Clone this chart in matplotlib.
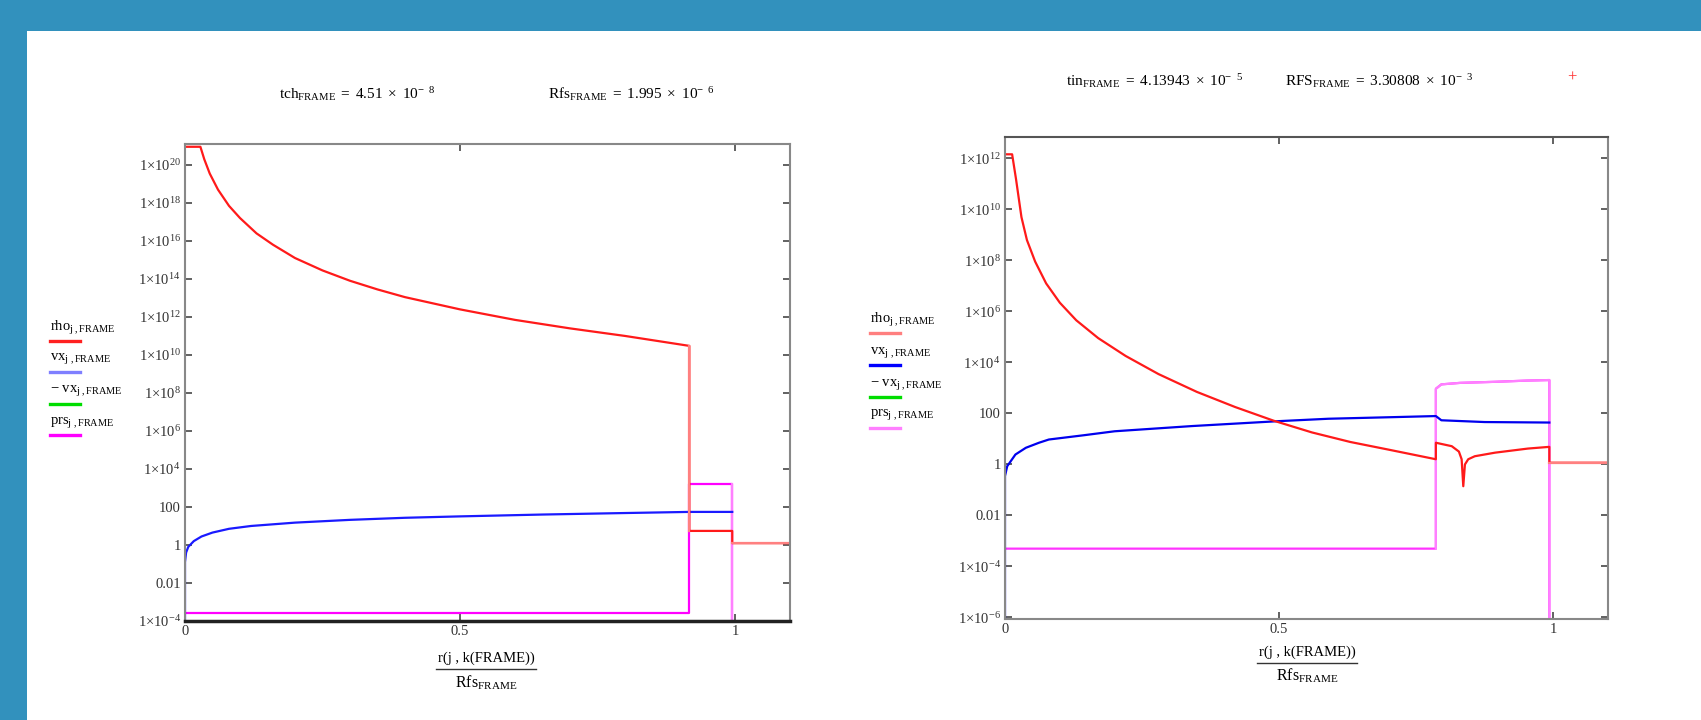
import numpy as np
import matplotlib
matplotlib.use("Agg")
import matplotlib.pyplot as plt
from matplotlib.lines import Line2D
from matplotlib.patches import Rectangle

plt.rcParams['font.family'] = ['Liberation Serif', 'DejaVu Serif']
plt.rcParams['mathtext.fontset'] = 'custom'
plt.rcParams['mathtext.rm'] = 'Liberation Serif'
plt.rcParams['mathtext.it'] = 'Liberation Serif:italic'

# ---- left frame : tch = 4.51e-8
rho_a_x = [0, 0.028, 0.035, 0.045, 0.06, 0.08, 0.1, 0.13, 0.16, 0.2, 0.25, 0.3, 0.35, 0.4,
           0.5, 0.6, 0.7, 0.8, 0.917, 0.917, 0.995, 0.995, 1.1]
rho_a = [9e20, 9e20, 2e20, 3.5e19, 5e18, 7e17, 1.6e17, 2.5e16, 6.3e15, 1.26e15, 2.8e14, 8e13,
         2.8e13, 1.1e13, 2.5e12, 7e11, 2.5e11, 1e11, 3e10, 5.5, 5.5, 1.25, 1.25]
vx_a_x = [0, 0, 0.002, 0.006, 0.016, 0.03, 0.05, 0.08, 0.12, 0.2, 0.3, 0.4, 0.5, 0.65, 0.8,
          0.917, 0.995]
vx_a = [1e-9, 0.126, 0.4, 0.8, 1.6, 2.8, 4.5, 7.1, 10, 15, 21, 27, 32, 40, 48, 55, 55]
prs_a_x = [0, 0.917, 0.917, 0.995, 0.995]
prs_a = [2.8e-4, 2.8e-4, 1.6e3, 1.6e3, 1e-9]

# ---- right frame : tin = 4.13943e-5
rho_b_x = [0, 0.013, 0.02, 0.03, 0.04, 0.055, 0.075, 0.1, 0.13, 0.17, 0.22, 0.28, 0.35, 0.42,
           0.49, 0.56, 0.63, 0.7, 0.786, 0.786, 0.815, 0.828, 0.833, 0.836, 0.839, 0.845, 0.857,
           0.894, 0.954, 0.993, 0.993, 1.1]
rho_b = [1.45e12, 1.45e12, 1.6e11, 5e9, 6.3e8, 9e7, 1.26e7, 2.2e6, 4.5e5, 9e4, 1.8e4, 3.5e3,
         700, 178, 52, 18, 7.6, 3.8, 1.6, 7.1, 5.2, 3.2, 1.6, 0.14, 1.0, 1.6, 2.1, 2.9, 4.2, 4.9,
         1.17, 1.17]
vx_b_x = [0, 0, 0.004, 0.019, 0.038, 0.062, 0.08, 0.144, 0.2, 0.341, 0.5, 0.59, 0.712, 0.786,
          0.796, 0.875, 0.993]
vx_b = [1e-9, 0.35, 0.85, 2.45, 4.5, 7.1, 9.5, 14, 20, 32, 50, 62, 72, 79, 54, 46, 44]
prs_b_x = [0, 0.786, 0.786, 0.796, 0.83, 0.894, 0.954, 0.993, 0.993]
prs_b = [5e-4, 5e-4, 930, 1380, 1580, 1740, 1950, 2040, 1e-9]

ticks_a = [1e-4, 1e-2, 1, 1e2, 1e4, 1e6, 1e8, 1e10, 1e12, 1e14, 1e16, 1e18, 1e20]
ticks_b = [1e-6, 1e-4, 1e-2, 1, 1e2, 1e4, 1e6, 1e8, 1e10, 1e12]


def tick_label(v):
    e = int(round(np.log10(v)))
    if e == -2:
        return "0.01"
    if 0 <= e <= 2:
        return str(int(v))
    return r"$1{\times}10^{%d}$" % e


W, H = 1701, 720
fig = plt.figure(figsize=(W / 100, H / 100), dpi=100)
fig.patch.set_facecolor('#3291bd')
fig.add_artist(Rectangle((27 / W, 0), 1 - 27 / W, 1 - 31 / H, transform=fig.transFigure,
                         facecolor='white', edgecolor='none', zorder=-10))


def px(x, y):
    return x / W, 1 - y / H


def setup(ax, ylim, ticks):
    ax.set_yscale('log')
    ax.set_xlim(0, 1.1)
    ax.set_ylim(*ylim)
    ax.set_yticks(ticks)
    ax.set_yticklabels([tick_label(t) for t in ticks])
    ax.yaxis.set_minor_locator(matplotlib.ticker.NullLocator())
    ax.set_xticks([0, 0.5, 1])
    ax.set_xticklabels(["0", "0.5", "1"])
    ax.tick_params(direction='in', length=5, width=1.3, color='#555555', labelsize=10.5,
                   labelcolor='#333333', right=True, top=True, pad=3)
    for s in ax.spines.values():
        s.set_color('#888888')
        s.set_linewidth(1.5)


lw = 1.6
light_red, light_mag = '#ff8080', '#ff80ff'

ax1 = fig.add_axes([185 / W, 1 - 621 / H, 605 / W, 477 / H])
setup(ax1, (1e-4, 10 ** 21.1), ticks_a)
ax1.spines['bottom'].set_color('#222222')
ax1.spines['bottom'].set_linewidth(2.5)
ax1.plot(prs_a_x, prs_a, color='#ff00ff', lw=lw)
ax1.plot(prs_a_x[3:], prs_a[3:], color=light_mag, lw=lw)
ax1.plot(vx_a_x, vx_a, color='#1a1aff', lw=lw)
ax1.plot(rho_a_x, rho_a, color='#ff1a1a', lw=lw)
ax1.plot(rho_a_x[18:20], rho_a[18:20], color=light_red, lw=lw)
ax1.plot(rho_a_x[21:], rho_a[21:], color=light_red, lw=lw)

ax2 = fig.add_axes([1005 / W, 1 - 619 / H, 603 / W, 482 / H])
setup(ax2, (10 ** -6.06, 10 ** 12.84), ticks_b)
ax2.spines['top'].set_color('#555555')
ax2.plot(prs_b_x, prs_b, color='#ff33ff', lw=lw)
ax2.plot(prs_b_x[1:], prs_b[1:], color=light_mag, lw=lw)
ax2.plot(vx_b_x, vx_b, color='#0000ee', lw=lw)
ax2.plot(rho_b_x, rho_b, color='#ff1a1a', lw=lw)
ax2.plot(rho_b_x[30:], rho_b[30:], color=light_red, lw=lw)

# titles
fs = 11
fig.text(*px(279, 99), r"$\mathrm{tch}_{\mathrm{FRAME}}\ =\ 4.51\ \times\ 10^{-\ \ 8}$", fontsize=fs)
fig.text(*px(548, 99), r"$\mathrm{Rfs}_{\mathrm{FRAME}}\ =\ 1.995\ \times\ 10^{-\ \ 6}$", fontsize=fs)
fig.text(*px(1066, 86), r"$\mathrm{tin}_{\mathrm{FRAME}}\ =\ 4.13943\ \times\ 10^{-\ \ 5}$", fontsize=fs)
fig.text(*px(1285, 86), r"$\mathrm{RFS}_{\mathrm{FRAME}}\ =\ 3.30808\ \times\ 10^{-\ \ 3}$", fontsize=fs)
fig.text(*px(1572, 78), "+", color='#ff3030', fontsize=12, ha='center', va='center')

# x-axis fraction labels
for cx, yn, yb, yd in [(486, 658, 669, 683), (1307, 652, 663, 676)]:
    fig.text(*px(cx, yn), "r(j , k(FRAME))", fontsize=10.5, ha='center', va='center')
    fig.add_artist(Line2D([(cx - 50) / W, (cx + 50) / W], [1 - yb / H] * 2, color='#333333',
                          lw=1, transform=fig.transFigure))
    fig.text(*px(cx, yd), r"$\mathrm{Rfs}_{\mathrm{FRAME}}$", fontsize=11.5, ha='center', va='center')

# legends
labels = [r"$\mathrm{rho}_{\mathrm{j}\ \mathrm{,FRAME}}$", r"$\mathrm{vx}_{\mathrm{j}\ \mathrm{,FRAME}}$",
          r"$-\ \mathrm{vx}_{\mathrm{j}\ \mathrm{,FRAME}}$", r"$\mathrm{prs}_{\mathrm{j}\ \mathrm{,FRAME}}$"]
leg_a_colors = ['#ff2020', '#7f7fff', '#00dd00', '#ff00ff']
leg_b_colors = ['#ff7f7f', '#0000ff', '#00dd00', '#ff7fff']
for x0, ys, cols in [(50, [328, 359, 391, 422], leg_a_colors), (870, [320, 352, 384, 415], leg_b_colors)]:
    for y, lab, c in zip(ys, labels, cols):
        fig.text(*px(x0, y), lab, fontsize=10.5, va='center')
        fig.add_artist(Line2D([x0 / W, (x0 + 30) / W], [1 - (y + 13) / H] * 2, color=c,
                              lw=2.4, transform=fig.transFigure))

fig.savefig("out.png", dpi=100, facecolor=fig.get_facecolor())
